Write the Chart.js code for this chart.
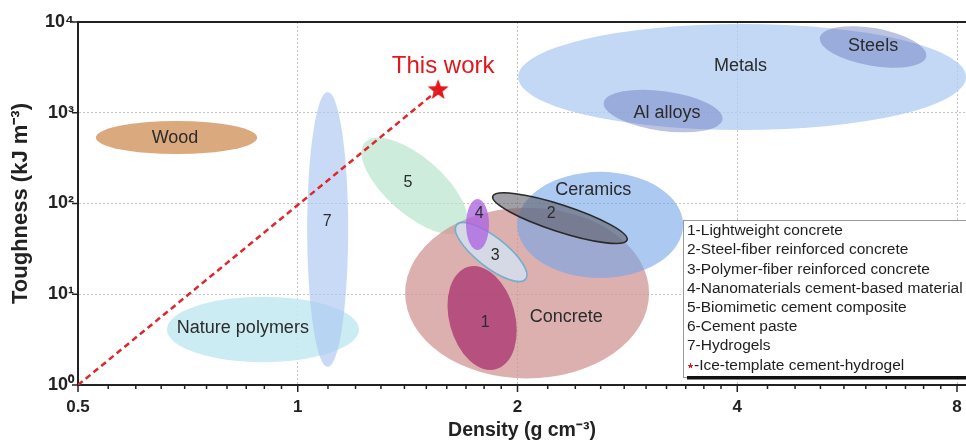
<!DOCTYPE html>
<html>
<head>
<meta charset="utf-8">
<script src="https://cdn.jsdelivr.net/npm/chart.js@4.4.0/dist/chart.umd.min.js"></script>
<style>
  html, body { margin: 0; padding: 0; background: #fff; }
  #wrap { width: 966px; height: 442px; }
</style>
</head>
<body>
<div id="wrap"><canvas id="myChart"></canvas></div>
<script>
// axis ticks
var densityTicks = [0.5, 1, 2, 4, 8];
var toughTicks = [1, 10, 100, 1000, 10000];
var toughLabels = ['10⁰', '10¹', '10²', '10³', '10⁴'];

// material regions: two ends of one ellipse axis (density, toughness)
// and the ratio of the other axis to it
var regionNames = ['Metals', 'Steels', 'Al alloys', 'Wood', 'Nature polymers', '7', '5',
                   'Concrete', 'Ceramics', '1', '3', '4', '2'];
var regionX1 = [2.004, 5.19, 2.625, 0.529, 0.662, 1.099, 1.236, 1.403, 1.998, 1.713, 1.650, 1.763, 1.850];
var regionY1 = [2480, 6730, 1290, 533, 4.09, 1694, 470, 10.3, 58, 20.1, 58.1, 112, 120];
var regionX2 = [8.23, 7.26, 3.819, 0.880, 1.213, 1.099, 1.690, 3.029, 3.372, 1.868, 2.053, 1.763, 2.826];
var regionY2 = [2480, 4180, 846, 533, 4.09, 1.58, 52, 10.3, 58, 1.49, 14.7, 30.7, 39.6];
var regionRatio = [0.237, 0.35, 0.33, 0.205, 0.34, 0.149, 0.43, 0.70, 0.64, 0.62, 0.34, 0.45, 0.19];

// text inside the plot
var labelText = ['Metals', 'Steels', 'Al alloys', 'Wood', 'Nature polymers', '7', '5',
                 'Concrete', 'Ceramics', '1', '3', '4', '2'];
var labelX = [4.04, 6.14, 3.206, 0.679, 0.841, 1.097, 1.416, 2.332, 2.539, 1.806, 1.864, 1.772, 2.224];
var labelY = [3275, 5440, 994, 527, 4.25, 62.5, 168, 5.61, 141, 4.82, 26.4, 76.6, 76.6];

// this work
var workX = [0.5, 1.557];
var workY = [1, 1780];

var legendItems = ['1-Lightweight concrete', '2-Steel-fiber reinforced concrete',
  '3-Polymer-fiber reinforced concrete', '4-Nanomaterials cement-based material',
  '5-Biomimetic cement composite', '6-Cement paste', '7-Hydrogels', '-Ice-template cement-hydrogel'];

var regionFill = ['rgba(175,203,242,0.75)', 'rgba(105,120,190,0.45)', 'rgba(105,120,190,0.45)',
  'rgba(214,160,112,0.9)', 'rgba(198,234,242,0.9)', 'rgba(172,198,242,0.65)', 'rgba(185,228,205,0.7)',
  'rgba(208,145,145,0.72)', 'rgba(115,165,232,0.6)', 'rgba(165,40,105,0.7)', 'rgba(212,226,240,0.85)',
  'rgba(172,100,225,0.78)', 'rgba(95,95,105,0.6)'];
var regionEdge = [null, null, null, null, null, null, null, null, null, null,
  'rgba(110,172,208,0.95)', null, '#2a2a2a'];

var FONT = "'Liberation Sans', Arial, sans-serif";

function makeStar(r) {
  var c = document.createElement('canvas');
  c.width = c.height = r * 2 + 2;
  var g = c.getContext('2d');
  g.beginPath();
  for (var i = 0; i < 10; i++) {
    var rr = i % 2 == 0 ? r : r * 0.42;
    var a = -Math.PI / 2 + i * Math.PI / 5;
    g.lineTo(r + 1 + rr * Math.cos(a), r + 1 + rr * Math.sin(a));
  }
  g.closePath();
  g.fillStyle = '#e3161b';
  g.fill();
  return c;
}

var minorX = [];
for (var v = 0.55; v < 0.999; v += 0.05) minorX.push(v);
for (var v = 1.1; v < 1.999; v += 0.1) minorX.push(v);
for (var v = 2.2; v < 3.999; v += 0.2) minorX.push(v);
for (var v = 4.4; v < 7.999; v += 0.4) minorX.push(v);

var regionPlugin = {
  id: 'regions',
  beforeDatasetsDraw: function (chart) {
    var ctx = chart.ctx, xs = chart.scales.x, ys = chart.scales.y, a = chart.chartArea;
    ctx.save();
    ctx.beginPath();
    ctx.rect(a.left, a.top, a.right - a.left, a.bottom - a.top);
    ctx.clip();
    for (var i = 0; i < regionNames.length; i++) {
      var x1 = xs.getPixelForValue(regionX1[i]), y1 = ys.getPixelForValue(regionY1[i]);
      var x2 = xs.getPixelForValue(regionX2[i]), y2 = ys.getPixelForValue(regionY2[i]);
      var r = Math.hypot(x2 - x1, y2 - y1) / 2;
      ctx.beginPath();
      ctx.ellipse((x1 + x2) / 2, (y1 + y2) / 2, r, r * regionRatio[i], Math.atan2(y2 - y1, x2 - x1), 0, Math.PI * 2);
      ctx.fillStyle = regionFill[i];
      ctx.fill();
      if (regionEdge[i]) {
        ctx.strokeStyle = regionEdge[i];
        ctx.lineWidth = 1.6;
        ctx.stroke();
      }
    }
    ctx.restore();
  },
  afterDatasetsDraw: function (chart) {
    var ctx = chart.ctx, xs = chart.scales.x, ys = chart.scales.y;
    ctx.save();
    ctx.textAlign = 'center';
    ctx.textBaseline = 'middle';
    for (var i = 0; i < labelText.length; i++) {
      var big = labelText[i].length > 1;
      ctx.font = (big ? '18px ' : '16px ') + FONT;
      ctx.fillStyle = '#2b2b2b';
      ctx.fillText(labelText[i], xs.getPixelForValue(labelX[i]), ys.getPixelForValue(labelY[i]));
    }
    ctx.font = '24px ' + FONT;
    ctx.fillStyle = '#e3161b';
    ctx.fillText('This work', xs.getPixelForValue(1.582), ys.getPixelForValue(3275));
    ctx.restore();
  },
  afterDraw: function (chart) {
    var ctx = chart.ctx, xs = chart.scales.x, ys = chart.scales.y, a = chart.chartArea;
    ctx.save();
    ctx.strokeStyle = '#222';
    ctx.lineWidth = 2;
    // top frame
    ctx.beginPath();
    ctx.moveTo(a.left - 1, a.top);
    ctx.lineTo(a.right, a.top);
    ctx.stroke();
    // x ticks
    ctx.lineWidth = 1.5;
    ctx.beginPath();
    densityTicks.forEach(function (t) {
      var p = xs.getPixelForValue(t);
      ctx.moveTo(p, a.bottom); ctx.lineTo(p, a.bottom + 7);
    });
    minorX.forEach(function (t) {
      var p = xs.getPixelForValue(t);
      ctx.moveTo(p, a.bottom); ctx.lineTo(p, a.bottom + 4);
    });
    toughTicks.forEach(function (t) {
      var p = ys.getPixelForValue(t);
      ctx.moveTo(a.left, p); ctx.lineTo(a.left - 6, p);
    });
    ctx.stroke();

    // legend box
    var lx = 683, ly = 220, lh = 19.2;
    ctx.fillStyle = '#fff';
    ctx.fillRect(lx, ly, 300, 158);
    ctx.strokeStyle = '#999';
    ctx.lineWidth = 1;
    ctx.strokeRect(lx + 0.5, ly + 0.5, 300, 157);
    ctx.fillStyle = '#111';
    ctx.fillRect(lx + 4, ly + 156, 300, 3.5);
    ctx.font = '15.5px ' + FONT;
    ctx.textBaseline = 'middle';
    ctx.textAlign = 'left';
    for (var i = 0; i < legendItems.length; i++) {
      var tx = lx + 4, ty = ly + 11 + i * lh;
      if (i == legendItems.length - 1) {
        ctx.drawImage(starImg, tx, ty - 3, 7, 7);
        tx += 7;
      }
      ctx.fillStyle = '#1e1e1e';
      ctx.fillText(legendItems[i], tx, ty);
    }
    ctx.restore();
  }
};

var starImg = makeStar(11);

var ctx = document.getElementById('myChart').getContext('2d');
var myChart = new Chart(ctx, {
  type: 'scatter',
  data: {
    datasets: [{
      label: 'trend',
      data: workX.map(function (x, i) { return { x: x, y: workY[i] }; }),
      showLine: true,
      borderColor: '#e0262b',
      borderWidth: 2.5,
      borderDash: [6, 4],
      pointRadius: 0
    }, {
      label: 'Ice-template cement-hydrogel',
      data: [{ x: workX[1], y: workY[1] }],
      pointStyle: starImg,
      pointRadius: 11
    }]
  },
  plugins: [regionPlugin],
  options: {
    responsive: true,
    maintainAspectRatio: false,
    animation: false,
    layout: { autoPadding: false, padding: { top: 22, right: 0, left: 0, bottom: 0 } },
    plugins: { legend: { display: false }, tooltip: { enabled: false } },
    scales: {
      x: {
        type: 'logarithmic',
        min: 0.5,
        max: 8.23,
        afterBuildTicks: function (s) { s.ticks = densityTicks.map(function (v) { return { value: v }; }); },
        afterFit: function (s) { s.height = 57; s.paddingLeft = 0; s.paddingRight = 0; },
        ticks: {
          autoSkip: false, maxRotation: 0, padding: 12, color: '#222',
          font: { family: FONT, size: 17, weight: 'bold' },
          callback: function (v) { return String(v); }
        },
        grid: {
          drawTicks: false,
          color: function (c) { return c.tick && c.tick.value == 0.5 ? 'rgba(0,0,0,0)' : '#c4c4c4'; }
        },
        border: { color: '#222', width: 2, dash: [2, 2] },
        title: {
          display: true, text: 'Density (g cm⁻³)', color: '#222',
          font: { family: FONT, size: 19.5, weight: 'bold' }, padding: { top: 0, bottom: 0 }
        }
      },
      y: {
        type: 'logarithmic',
        min: 1,
        max: 10000,
        afterBuildTicks: function (s) { s.ticks = toughTicks.map(function (v) { return { value: v }; }); },
        afterFit: function (s) { s.width = 78; s.paddingTop = 0; s.paddingBottom = 0; },
        ticks: {
          autoSkip: false, padding: 4, color: '#222',
          font: { family: FONT, size: 18, weight: 'bold' },
          callback: function (v) { return toughLabels[toughTicks.indexOf(v)]; }
        },
        grid: {
          drawTicks: false,
          color: function (c) { return c.tick && c.tick.value == 10000 ? 'rgba(0,0,0,0)' : '#c4c4c4'; }
        },
        border: { color: '#222', width: 2, dash: [2, 2] },
        title: {
          display: true, text: 'Toughness (kJ m⁻³)', color: '#222',
          font: { family: FONT, size: 22, weight: 'bold' }, padding: { top: 8, bottom: 0 }
        }
      }
    }
  }
});
</script>
</body>
</html>
